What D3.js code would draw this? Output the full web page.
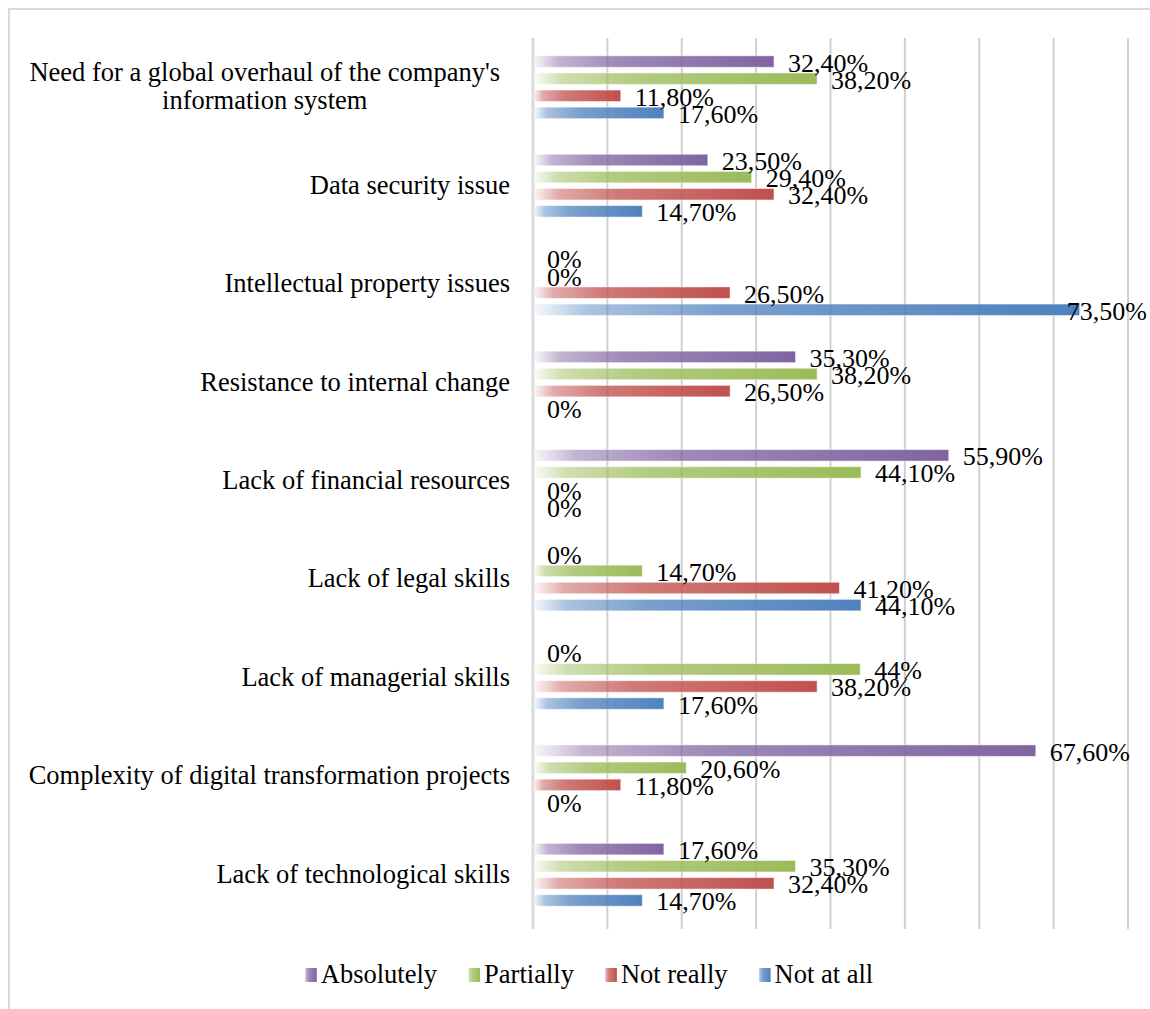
<!DOCTYPE html>
<html>
<head>
<meta charset="utf-8">
<script src="https://cdnjs.cloudflare.com/ajax/libs/d3/7.8.5/d3.min.js"></script>
</head>
<body style="margin:0;background:#fff">
<svg id="chart" style="display:block"></svg>
<script>
// categories from top to bottom
const categories = [
  "Need for a global overhaul of the company's|information system",
  'Data security issue',
  'Intellectual property issues',
  'Resistance to internal change',
  'Lack of financial resources',
  'Lack of legal skills',
  'Lack of managerial skills',
  'Complexity of digital transformation projects',
  'Lack of technological skills'
];
const seriesNames = ['Absolutely', 'Partially', 'Not really', 'Not at all'];
const seriesColors = ['#8064A2', '#9BBB59', '#C0504D', '#4F81BD'];

const absolutely = [32.4, 23.5, 0, 35.3, 55.9, 0, 0, 67.6, 17.6];
const partially = [38.2, 29.4, 0, 38.2, 44.1, 14.7, 44, 20.6, 35.3];
const notReally = [11.8, 32.4, 26.5, 26.5, 0, 41.2, 38.2, 11.8, 32.4];
const notAtAll = [17.6, 14.7, 73.5, 0, 0, 44.1, 17.6, 0, 14.7];
const gridTicks = [0, 10, 20, 30, 40, 50, 60, 70, 80];

const seriesValues = [absolutely, partially, notReally, notAtAll];

function fmt(v) {
  if (Number.isInteger(v)) return v + '%';
  return v.toFixed(2).replace('.', ',') + '%';
}

// put the serif face straight on a text node
function serif(t, size) {
  return t
    .attr('font-family', 'Liberation Serif')
    .style('font-family', '"Liberation Serif"')
    .attr('font-size', size)
    .attr('fill', '#000');
}

function drawChart(width, height) {
  let svg = d3
    .select('#chart')
    .attr('width', width)
    .attr('height', height);

  let defs = svg.append('defs');
  seriesColors.forEach((c, i) => {
    let g = defs
      .append('linearGradient')
      .attr('id', 'grad' + i)
      .attr('x1', 0)
      .attr('x2', 1)
      .attr('y1', 0)
      .attr('y2', 0);
    [[0, 0.05], [0.1, 0.48], [0.35, 0.76], [1, 1]].forEach(s => {
      g.append('stop')
        .attr('offset', s[0])
        .attr('stop-color', c)
        .attr('stop-opacity', s[1]);
    });
  });

  // outer frame
  svg
    .append('rect')
    .attr('x', 9)
    .attr('y', 9)
    .attr('width', width + 50)
    .attr('height', height + 50)
    .attr('fill', 'none')
    .attr('stroke', '#d9d9d9')
    .attr('stroke-width', 2);

  let x = d3
      .scaleLinear()
      .domain([0, 80])
      .range([533, 1128]),
    y0 = d3
      .scaleBand()
      .domain(categories)
      .range([38, 924]),
    y1 = d3
      .scaleBand()
      .domain(seriesNames)
      .range([15, y0.bandwidth() - 15]),
    barH = 11.5;

  // gridlines
  svg
    .append('g')
    .selectAll('line')
    .data(gridTicks)
    .enter()
    .append('line')
    .attr('x1', d => x(d))
    .attr('x2', d => x(d))
    .attr('y1', 38)
    .attr('y2', 929)
    .attr('stroke', d => (d === 0 ? '#d9d9d9' : '#d0d0d0'))
    .attr('stroke-width', d => (d === 0 ? 3 : 2));

  // category labels, one text per line
  let catG = svg.append('g');
  categories.forEach(cat => {
    let lines = cat.split('|'),
      cy = y0(cat) + y0.bandwidth() / 2,
      lh = 28;
    let texts = lines.map((l, i) =>
      serif(catG.append('text'), 26.5)
        .attr('x', 510)
        .attr('y', cy + 8 + (i - (lines.length - 1) / 2) * lh)
        .attr('text-anchor', lines.length > 1 ? 'middle' : 'end')
        .text(l)
    );
    if (lines.length > 1) {
      let w = d3.max(texts, t => t.node().getComputedTextLength());
      texts.forEach(t => t.attr('x', 500 - w / 2));
    }
  });

  // bars and labels
  let rows = [];
  categories.forEach((cat, ci) => {
    seriesNames.forEach((s, si) => {
      rows.push({ cat: cat, series: s, si: si, value: seriesValues[si][ci] });
    });
  });

  let barG = svg.append('g');
  barG
    .selectAll('rect')
    .data(rows.filter(d => d.value > 0))
    .enter()
    .append('rect')
    .attr('x', x(0) + 1)
    .attr('y', d => y0(d.cat) + y1(d.series) + (y1.bandwidth() - barH) / 2)
    .attr('width', d => x(d.value) - x(0) - 1)
    .attr('height', barH)
    .attr('fill', d => 'url(#grad' + d.si + ')')
    .attr('stroke', '#fff')
    .attr('stroke-opacity', 0.5)
    .attr('stroke-width', 1);

  let labG = svg.append('g');
  rows.forEach(d => {
    let cy = y0(d.cat) + y1(d.series) + y1.bandwidth() / 2;
    let t = serif(labG.append('text'), 26)
      .attr('x', x(d.value) + 14)
      .attr('y', cy + 10)
      .text(fmt(d.value));
    let w = t.node().getComputedTextLength();
    if (x(d.value) + 14 + w > 1147) t.attr('x', 1147 - w);
  });

  // legend
  let legend = svg.append('g');
  let items = [],
    cursor = 0;
  seriesNames.forEach((s, i) => {
    let g = legend.append('g');
    g.append('rect')
      .attr('x', 0)
      .attr('y', 968)
      .attr('width', 12)
      .attr('height', 14)
      .attr('fill', 'url(#grad' + i + ')');
    let t = serif(g.append('text'), 26.5)
      .attr('x', 16)
      .attr('y', 983)
      .text(s);
    let w = 16 + t.node().getComputedTextLength();
    items.push({ g: g, x: cursor });
    cursor += w + 31;
  });
  let total = cursor - 31,
    start = 589 - total / 2;
  items.forEach(it => it.g.attr('transform', 'translate(' + (start + it.x) + ',0)'));
}

drawChart(1150, 1009);
</script>
</body>
</html>
